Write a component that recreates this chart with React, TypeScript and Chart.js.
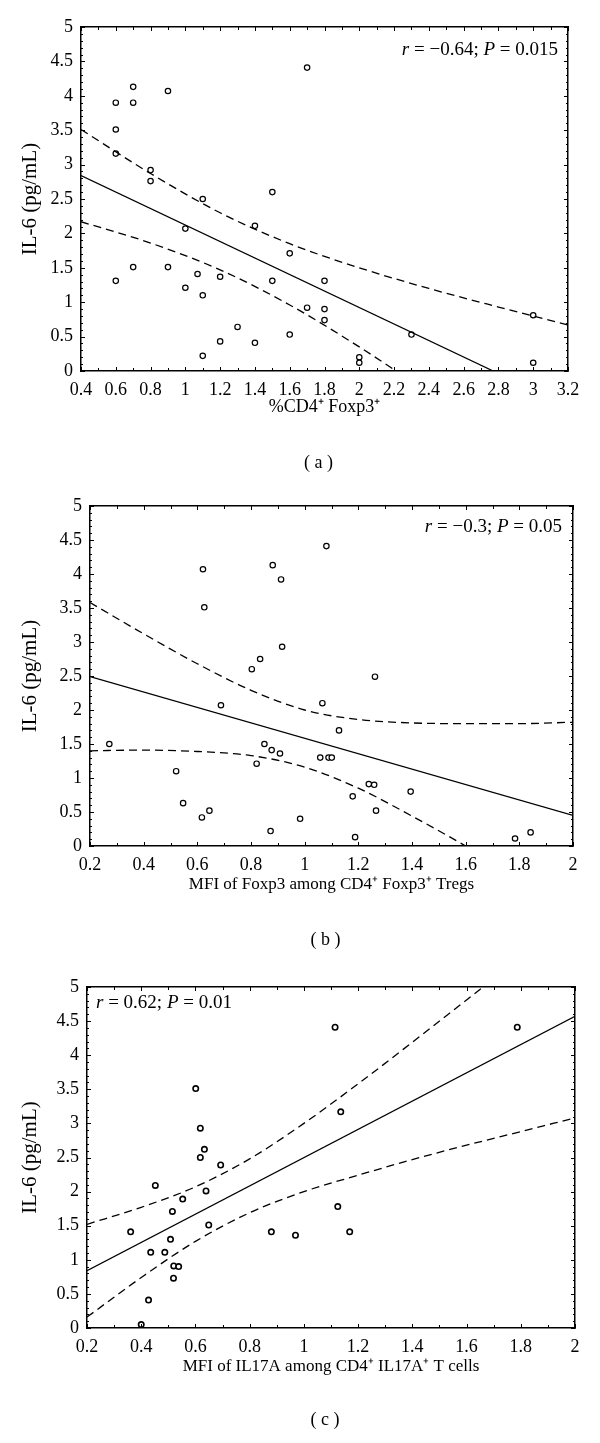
import React, { useEffect, useRef } from "react";
import { Chart, registerables } from "chart.js";
Chart.register(...registerables);

const FONT = "'Liberation Serif', 'Times New Roman', serif";

// ---------- Panel (a) ----------
const aX = [0.6, 0.7, 0.7, 0.9, 0.6, 0.6, 0.8, 0.8, 1.5, 1.1, 1.7, 1.0, 1.4, 1.6, 0.6, 0.7, 0.9, 1.07, 1.2, 1.0, 1.1, 1.5, 1.3, 1.2, 1.4, 1.6, 1.1, 1.8, 1.7, 1.8, 1.8, 2.3, 3.0, 3.0, 2.0, 2.0];
const aY = [3.9, 4.13, 3.9, 4.07, 3.51, 3.16, 2.92, 2.76, 2.6, 2.5, 4.41, 2.07, 2.11, 1.71, 1.31, 1.51, 1.51, 1.41, 1.37, 1.21, 1.1, 1.31, 0.64, 0.43, 0.41, 0.53, 0.22, 1.31, 0.92, 0.9, 0.74, 0.53, 0.81, 0.12, 0.2, 0.12];
const aFitX = [0.4, 2.77];
const aFitY = [2.84, 0];
const aBandX = [0.4, 0.8, 1.2, 1.6, 2.0, 2.4, 2.8, 3.2];
const aUpper = [3.51, 2.87, 2.3, 1.85, 1.5, 1.2, 0.93, 0.67];
const aLower = [2.17, 1.86, 1.47, 0.96, 0.35, -0.32, -1.0, -1.69];
const aXTicks = [0.4, 3.2, 0.2];

// ---------- Panel (b) ----------
const bX = [0.621, 0.626, 0.881, 0.912, 0.916, 0.834, 0.803, 1.081, 0.688, 0.272, 0.85, 0.877, 0.908, 0.821, 0.521, 0.547, 0.617, 0.645, 0.873, 0.983, 1.262, 1.066, 1.128, 1.058, 1.089, 1.101, 1.239, 1.259, 1.179, 1.395, 1.266, 1.188, 1.784, 1.842];
const bY = [4.07, 3.51, 4.13, 3.92, 2.93, 2.75, 2.6, 4.41, 2.07, 1.5, 1.5, 1.41, 1.36, 1.21, 1.1, 0.63, 0.42, 0.52, 0.22, 0.4, 2.49, 2.1, 1.7, 1.3, 1.3, 1.3, 0.91, 0.9, 0.73, 0.8, 0.52, 0.13, 0.11, 0.2];
const bFitX = [0.2, 2.0];
const bFitY = [2.49, 0.45];
const bBandX = [0.2, 0.4, 0.6, 0.8, 1.0, 1.2, 1.4, 1.6, 1.8, 2.0];
const bUpper = [3.58, 3.12, 2.68, 2.29, 2.0, 1.86, 1.81, 1.8, 1.8, 1.82];
const bLower = [1.4, 1.41, 1.39, 1.33, 1.16, 0.85, 0.44, 0.0, -0.47, -0.94];
const bXTicks = [0.2, 2.0, 0.2];

// ---------- Panel (c) ----------
const cX = [0.601, 0.618, 0.633, 1.115, 1.787, 1.136, 0.618, 0.693, 0.452, 0.639, 0.553, 0.515, 0.649, 0.361, 0.508, 0.435, 0.487, 0.52, 0.538, 0.519, 0.427, 0.4, 0.88, 0.969, 1.125, 1.169];
const cY = [3.51, 2.93, 2.62, 4.41, 4.41, 3.17, 2.5, 2.39, 2.09, 2.01, 1.89, 1.71, 1.51, 1.41, 1.3, 1.11, 1.11, 0.91, 0.9, 0.73, 0.41, 0.05, 1.41, 1.36, 1.78, 1.41];
const cFitX = [0.2, 2.0];
const cFitY = [0.84, 4.57];
const cBandX = [0.2, 0.4, 0.6, 0.8, 1.0, 1.2, 1.4, 1.6, 1.8, 2.0];
const cUpper = [1.52, 1.77, 2.07, 2.48, 3.0, 3.58, 4.19, 4.81, 5.43, 6.06];
const cLower = [0.16, 0.74, 1.27, 1.69, 2.0, 2.24, 2.47, 2.68, 2.88, 3.08];
const cXTicks = [0.2, 2.0, 0.2];

const yTicks = [0, 5, 0.5];
const yTitle = "IL-6 (pg/mL)";

type Piece = { t: string; it?: boolean };
type PanelCfg = {
  px: number[]; py: number[];
  fx: number[]; fy: number[];
  bx: number[]; up: number[]; lo: number[];
  xt: number[];
  xTitle: string; xTitleSize: number;
  note: Piece[]; noteAlign: "left" | "right"; noteX: number; noteY: number;
  label: string; ptW: number;
  left: number; right: number; top: number; bottom: number; xTitleY: number; labelY: number;
};

const H = 481;

const panels: PanelCfg[] = [
  {
    px: aX, py: aY, fx: aFitX, fy: aFitY, bx: aBandX, up: aUpper, lo: aLower, xt: aXTicks,
    xTitle: "%CD4\u207A Foxp3\u207A", xTitleSize: 18,
    note: [{ t: "r", it: true }, { t: " = \u22120.64; " }, { t: "P", it: true }, { t: " = 0.015" }],
    noteAlign: "right", noteX: 558, noteY: 55, label: "( a )", ptW: 1.2,
    left: 81, right: 568, top: 27, bottom: 371, xTitleY: 407, labelY: 463,
  },
  {
    px: bX, py: bY, fx: bFitX, fy: bFitY, bx: bBandX, up: bUpper, lo: bLower, xt: bXTicks,
    xTitle: "MFI of Foxp3 among CD4\u207A Foxp3\u207A Tregs", xTitleSize: 17,
    note: [{ t: "r", it: true }, { t: " = \u22120.3; " }, { t: "P", it: true }, { t: " = 0.05" }],
    noteAlign: "right", noteX: 562, noteY: 51, label: "( b )", ptW: 1.2,
    left: 90, right: 573, top: 25, bottom: 365, xTitleY: 403, labelY: 459,
  },
  {
    px: cX, py: cY, fx: cFitX, fy: cFitY, bx: cBandX, up: cUpper, lo: cLower, xt: cXTicks,
    xTitle: "MFI of IL17A among CD4\u207A IL17A\u207A T cells", xTitleSize: 17,
    note: [{ t: "r", it: true }, { t: " = 0.62; " }, { t: "P", it: true }, { t: " = 0.01" }],
    noteAlign: "left", noteX: 96, noteY: 46, label: "( c )", ptW: 1.6,
    left: 87, right: 575, top: 25, bottom: 366, xTitleY: 404, labelY: 458,
  },
];

const fmt = (v: number | string) => String(parseFloat(Number(v).toFixed(2)));

function makeDecor(p: PanelCfg) {
  return {
    id: "decor",
    afterDraw(chart: any) {
      const { ctx, chartArea: ca, scales } = chart;
      const xs = scales.x, ys = scales.y;
      ctx.save();
      ctx.strokeStyle = "#000";
      ctx.lineWidth = 1;
      const seg = (x1: number, y1: number, x2: number, y2: number) => {
        ctx.beginPath(); ctx.moveTo(x1, y1); ctx.lineTo(x2, y2); ctx.stroke();
      };
      const xv: number[] = xs.ticks.map((t: any) => t.value);
      for (let i = 0; i < xv.length; i++) {
        const px = Math.round(xs.getPixelForValue(xv[i])) + 0.5;
        seg(px, ca.bottom, px, ca.bottom - 4);
        seg(px, ca.top, px, ca.top + 4);
        if (i < xv.length - 1) {
          const m = Math.round(xs.getPixelForValue((xv[i] + xv[i + 1]) / 2)) + 0.5;
          seg(m, ca.bottom, m, ca.bottom - 3);
          seg(m, ca.top, m, ca.top + 3);
        }
      }
      const yv: number[] = ys.ticks.map((t: any) => t.value);
      for (let i = 0; i < yv.length; i++) {
        const py = Math.round(ys.getPixelForValue(yv[i])) + 0.5;
        seg(ca.left, py, ca.left + 4, py);
        seg(ca.right, py, ca.right - 4, py);
        if (i < yv.length - 1) {
          for (let k = 1; k < 5; k++) {
            const m = Math.round(ys.getPixelForValue(yv[i] + ((yv[i + 1] - yv[i]) * k) / 5)) + 0.5;
            seg(ca.left, m, ca.left + 2, m);
            seg(ca.right, m, ca.right - 2, m);
          }
        }
      }
      ctx.fillStyle = "#000";
      ctx.textBaseline = "alphabetic";
      const fontFor = (it?: boolean) => `${it ? "italic " : ""}19px ${FONT}`;
      let total = 0;
      for (const pc of p.note) { ctx.font = fontFor(pc.it); total += ctx.measureText(pc.t).width; }
      let x = p.noteAlign === "right" ? p.noteX - total : p.noteX;
      ctx.textAlign = "left";
      for (const pc of p.note) {
        ctx.font = fontFor(pc.it);
        ctx.fillText(pc.t, x, p.noteY);
        x += ctx.measureText(pc.t).width;
      }
      ctx.font = `18px ${FONT}`;
      ctx.textAlign = "center";
      ctx.textBaseline = "middle";
      ctx.fillText(p.label, (ca.left + ca.right) / 2 - 6, p.labelY);
      ctx.restore();
    },
  };
}

function Panel({ p }: { p: PanelCfg }) {
  const ref = useRef<HTMLCanvasElement>(null);
  useEffect(() => {
    if (!ref.current) return;
    const pts = p.px.map((x, i) => ({ x, y: p.py[i] }));
    const fit = p.fx.map((x, i) => ({ x, y: p.fy[i] }));
    const up = p.bx.map((x, i) => ({ x, y: p.up[i] }));
    const lo = p.bx.map((x, i) => ({ x, y: p.lo[i] }));
    const xScaleBottom = p.xTitleY + 11;
    const bandStyle = {
      type: "line" as const, borderColor: "#000", borderWidth: 1.3, borderDash: [8, 5],
      pointRadius: 0, cubicInterpolationMode: "monotone" as const, fill: false, clip: 0,
    };
    const chart = new Chart(ref.current, {
      type: "scatter",
      data: {
        datasets: [
          { ...bandStyle, data: up },
          { ...bandStyle, data: lo },
          { type: "line", data: fit, borderColor: "#000", borderWidth: 1.3, pointRadius: 0, fill: false, clip: 0 } as any,
          {
            type: "scatter", data: pts, pointRadius: 2.7, pointBorderWidth: p.ptW,
            pointBorderColor: "#000", pointBackgroundColor: "#fff", borderColor: "#000",
            backgroundColor: "#fff", clip: false,
          } as any,
        ] as any,
      },
      options: {
        responsive: false,
        animation: false,
        devicePixelRatio: 1,
        events: [],
        layout: { padding: { left: 0, right: 600 - p.right, top: p.top, bottom: H - xScaleBottom } },
        plugins: { legend: { display: false }, tooltip: { enabled: false } },
        scales: {
          x: {
            type: "linear", position: "bottom", min: p.xt[0], max: p.xt[1],
            ticks: { stepSize: p.xt[2], callback: (v: any) => fmt(v), font: { family: FONT, size: 18 }, color: "#000", padding: 8, maxRotation: 0, autoSkip: false },
            grid: { display: false, drawTicks: false },
            border: { display: true, color: "#000", width: 1.5 },
            title: { display: true, text: p.xTitle, font: { family: FONT, size: p.xTitleSize }, color: "#000", padding: 0 },
            afterFit: (s: any) => { s.height = xScaleBottom - p.bottom; },
          },
          y: {
            type: "linear", position: "left", min: yTicks[0], max: yTicks[1],
            ticks: { stepSize: yTicks[2], callback: (v: any) => fmt(v), font: { family: FONT, size: 18 }, color: "#000", padding: 8, autoSkip: false },
            grid: { display: false, drawTicks: false },
            border: { display: true, color: "#000", width: 1.5 },
            title: { display: true, text: yTitle, font: { family: FONT, size: 21 }, color: "#000", padding: { top: 18, bottom: 0 } },
            afterFit: (s: any) => { s.width = p.left; },
          },
          x2: {
            type: "linear", position: "top", display: true,
            ticks: { display: false }, grid: { display: false, drawTicks: false },
            border: { display: true, color: "#000", width: 1.5 },
            afterFit: (s: any) => { s.height = 0; },
          },
          y2: {
            type: "linear", position: "right", display: true,
            ticks: { display: false }, grid: { display: false, drawTicks: false },
            border: { display: true, color: "#000", width: 1.5 },
            afterFit: (s: any) => { s.width = 0; },
          },
        },
      } as any,
      plugins: [makeDecor(p)],
    });
    return () => chart.destroy();
  }, [p]);
  return (
    <div style={{ width: 600, height: H }}>
      <canvas ref={ref} width={600} height={H} style={{ display: "block" }} />
    </div>
  );
}

export default function App() {
  useEffect(() => {
    document.body.style.margin = "0";
    document.body.style.background = "#fff";
  }, []);
  return (
    <div style={{ width: 600, background: "#fff" }}>
      {panels.map((p, i) => (
        <Panel key={i} p={p} />
      ))}
    </div>
  );
}
